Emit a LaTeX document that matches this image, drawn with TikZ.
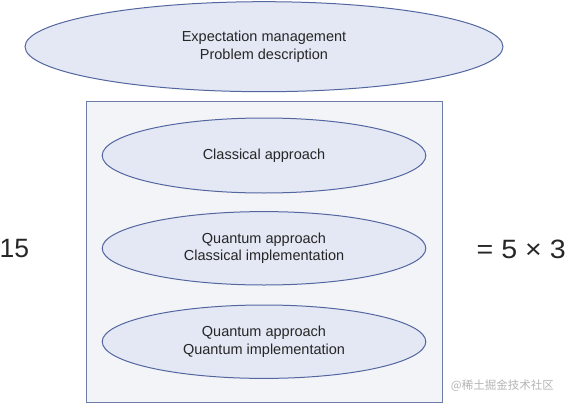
\documentclass[tikz,border=0pt]{standalone}
\usepackage{fontspec}
\setmainfont{Liberation Sans}
\newfontfamily\cjkfont{Noto Sans CJK SC}
\usetikzlibrary{shapes.geometric}
\definecolor{ellfill}{HTML}{E3E8F4}
\definecolor{elldraw}{HTML}{5466A0}
\definecolor{boxfill}{HTML}{F2F4F8}
\definecolor{boxdraw}{HTML}{6E7BAA}
\definecolor{wmark}{HTML}{B4B4B4}
\tikzset{
  oval/.style={ellipse, draw=elldraw, fill=ellfill, line width=1pt, inner sep=0pt,
    align=center, font=\fontsize{14.5}{17.2}\selectfont, text=black!85},
  frame/.style={draw=boxdraw, fill=boxfill, line width=1pt},
  bigtext/.style={font=\fontsize{26.5}{30}\selectfont, text=black!85, inner sep=0pt}
}
\begin{document}
\begin{tikzpicture}[x=1pt,y=-1pt]
\useasboundingbox (0,0) rectangle (567,404);
\node[oval, minimum width=478pt, minimum height=90pt] (goal) at (264,46.7)
  {Expectation management\\Problem description};
\node[frame, anchor=north west, minimum width=356.6pt, minimum height=301.6pt, inner sep=0pt] (box) at (85.7,100.7) {};
\node[oval, minimum width=323.6pt, minimum height=75pt] (classical) at (264,155.5)
  {Classical approach};
\node[oval, minimum width=323.6pt, minimum height=73.4pt] (qclass) at (264,248.3)
  {Quantum approach\\Classical implementation};
\node[oval, minimum width=323.6pt, minimum height=73.4pt] (qquant) at (264,341.7)
  {Quantum approach\\Quantum implementation};
\node[bigtext, anchor=west] (lhs) at (-0.5,249) {15};
\node[bigtext, anchor=east, transform shape, xscale=1.08] (rhs) at (566,249) {= 5 × 3};
\node[anchor=east, inner sep=0pt, text=wmark, font=\cjkfont\fontsize{11.5}{12}\selectfont] (wm) at (554,385.5) {@稀土掘金技术社区};
\end{tikzpicture}
\end{document}
